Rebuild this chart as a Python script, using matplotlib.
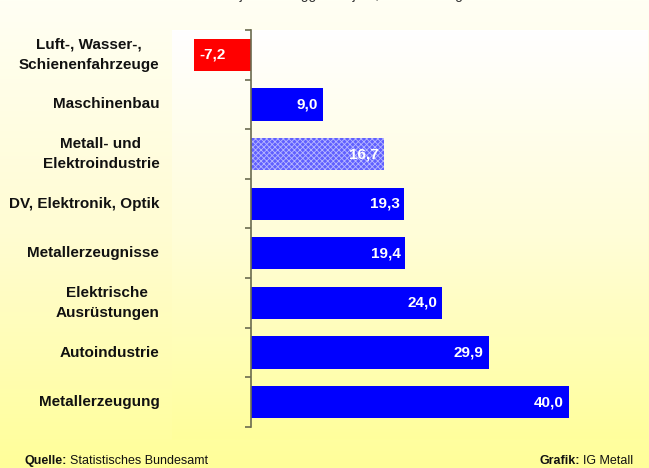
import matplotlib
matplotlib.use('Agg')
import matplotlib.pyplot as plt
import numpy as np
from matplotlib.colors import LinearSegmentedColormap

plt.rcParams['font.family'] = ['Liberation Sans', 'DejaVu Sans']
plt.rcParams['hatch.linewidth'] = 0.6

# data
categories = ['Luft-, Wasser-,\nSchienenfahrzeuge', 'Maschinenbau',
              'Metall- und\nElektroindustrie', 'DV, Elektronik, Optik',
              'Metallerzeugnisse', 'Elektrische\nAusrüstungen',
              'Autoindustrie', 'Metallerzeugung']
values = [-7.2, 9.0, 16.7, 19.3, 19.4, 24.0, 29.9, 40.0]
highlight = 'Metall- und\nElektroindustrie'

red = '#ff0000'
blue = '#0000ff'

W, H = 649, 468
fig = plt.figure(figsize=(W / 100, H / 100), dpi=100)

# background gradient for the figure
bg = fig.add_axes([0, 0, 1, 1], zorder=-10)
grad = np.linspace(0, 1, 256).reshape(-1, 1)
fig_cmap = LinearSegmentedColormap.from_list('fig', ['#fffff4', '#fffcd2', '#ffff99'])
bg.imshow(grad, aspect='auto', cmap=fig_cmap, extent=[0, 1, 0, 1])
bg.axis('off')

# plot area
left, right, top, bottom = 172, 648, 30, 440
ax = fig.add_axes([left / W, 1 - bottom / H, (right - left) / W, (bottom - top) / H])
ax_cmap = LinearSegmentedColormap.from_list('ax', ['#ffffff', '#fffdd8', '#ffff9c'])
ax.imshow(grad, aspect='auto', cmap=ax_cmap, extent=[0, 1, 0, 1],
          transform=ax.transAxes, zorder=0)

n = len(categories)
y = np.arange(n)
# bottom of the plot area extends a little below the last category
ax.set_ylim(n - 0.5 + (bottom - 427) / 49.6, -0.5)
ax.set_xlim(-10, 50)

for yi, cat, v in zip(y, categories, values):
    if cat == highlight:
        ax.barh(yi, v, height=0.65, color='#6060ff', hatch='xxxxxx',
                edgecolor='#b8b8ff', linewidth=0, zorder=2)
    else:
        ax.barh(yi, v, height=0.65, color=red if v < 0 else blue,
                linewidth=0, zorder=2)
    txt = f'{v:.1f}'.replace('.', ',')
    if v < 0:
        ax.text(v + 0.6, yi, txt, ha='left', va='center', color='white',
                fontsize=11, fontweight='bold', zorder=3)
    else:
        ax.text(v - 0.6, yi, txt, ha='right', va='center', color='white',
                fontsize=11, fontweight='bold', zorder=3)
    ax.text(-11.6, yi, cat, ha='right', va='center', multialignment='center',
            fontsize=11, fontweight='bold', color='#111111', linespacing=1.6)

for s in ['top', 'right', 'bottom']:
    ax.spines[s].set_visible(False)
ax.spines['left'].set_position(('data', 0))
ax.spines['left'].set_bounds(-0.5, n - 0.5)
ax.spines['left'].set_color('#6b6b50')
ax.spines['left'].set_linewidth(1.2)
ax.set_yticks(np.arange(-0.5, n, 1.0))
ax.set_yticklabels([])
ax.tick_params(axis='y', direction='out', length=4, color='#6b6b50', width=1.2)
ax.set_xticks([])

# title (only its lower edge shows at the top of the picture)
fig.text(0.52, 1 + 1 / H, 'Umsatz 1. Halbjahr 2011 ggü. Vorjahr, Veränderung in Prozent',
         ha='center', va='baseline', fontsize=10, color='#333333')

# footer
fy = 1 - 461 / H
fig.text(24 / W, fy, 'Quelle:', ha='left', va='center', fontsize=9,
         fontweight='bold', color='#111111')
fig.text(70 / W, fy, 'Statistisches Bundesamt', ha='left', va='center',
         fontsize=9, color='#111111')
fig.text(633 / W, fy, 'IG Metall', ha='right', va='center', fontsize=9,
         color='#111111')
fig.text(580 / W, fy, 'Grafik:', ha='right', va='center', fontsize=9,
         fontweight='bold', color='#111111')

fig.savefig('out.png', dpi=100)
